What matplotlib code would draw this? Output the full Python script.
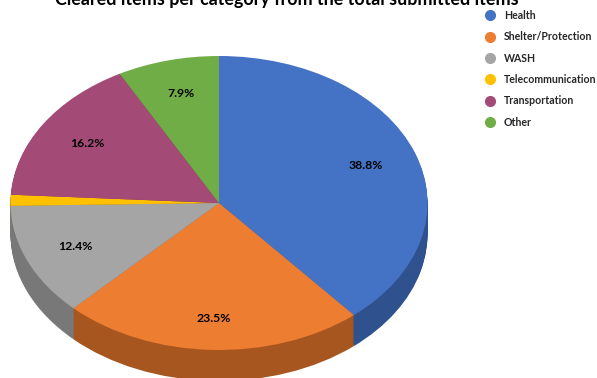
import matplotlib
matplotlib.use("Agg")
import matplotlib.pyplot as plt
from matplotlib.lines import Line2D

categories = ["Health", "Shelter/Protection", "WASH", "Telecommunication", "Transportation", "Other"]
shares = [38.8, 23.5, 12.4, 1.2, 16.2, 7.9]
top_colors = ["#4472C4", "#ED7D31", "#A5A5A5", "#FFC000", "#A34A76", "#70AD47"]
wall_colors = ["#2F528F", "#A6561E", "#787878", "#B38600", "#73345A", "#4E7A32"]
title = "Cleared items per category from the total submitted items"

W, H = 597, 378
CX, CY, RX, RY, DEPTH = 219, 203, 208.5, 147, 31

plt.rcParams["font.family"] = ["Lato", "DejaVu Sans"]
fig = plt.figure(figsize=(W / 100, H / 100), dpi=100)
ax = fig.add_axes([0, 0, 1, 1])


def hide_small(pct):
    return f"{pct:.1f}%" if pct >= 2 else ""


# Side wall: darker copies of the pie stacked downward
for d in range(DEPTH, 0, -1):
    ax.pie(shares, colors=wall_colors, startangle=90, counterclock=False,
           center=(0, -d / RY), wedgeprops={"linewidth": 0})

# Top face with percentage labels
_, _, pct_texts = ax.pie(shares, colors=top_colors, startangle=90, counterclock=False,
                         autopct=hide_small, pctdistance=0.75,
                         wedgeprops={"linewidth": 0},
                         textprops={"fontsize": 8.8, "fontweight": "bold", "color": "black"})

# Small label nudges for the bottom and top slices
for idx, dy_px in ((1, -5), (5, 3)):
    x, y = pct_texts[idx].get_position()
    pct_texts[idx].set_position((x, y + dy_px / RY))

# Elliptical projection: one data unit is RX pixels across and RY pixels down
ax.set_aspect("auto")
ax.set_xlim(-CX / RX, (W - CX) / RX)
ax.set_ylim((CY - H) / RY, CY / RY)

fig.text(287, H - 4.5, title, transform=None, ha="center", va="baseline",
         fontsize=12.9, fontweight="bold", color="black")

handles = [Line2D([], [], linestyle="none", marker="o", markersize=8,
                  markerfacecolor=c, markeredgecolor="none") for c in top_colors]
fig.legend(handles, categories, loc="upper left", bbox_to_anchor=(481 / W, 1 - 10 / H),
           frameon=False, prop={"size": 7.6, "weight": "bold"}, labelcolor="#262626",
           labelspacing=0.98, handletextpad=0.55, handlelength=1.64, borderaxespad=0, borderpad=0)

fig.savefig("out.png", dpi=100)
